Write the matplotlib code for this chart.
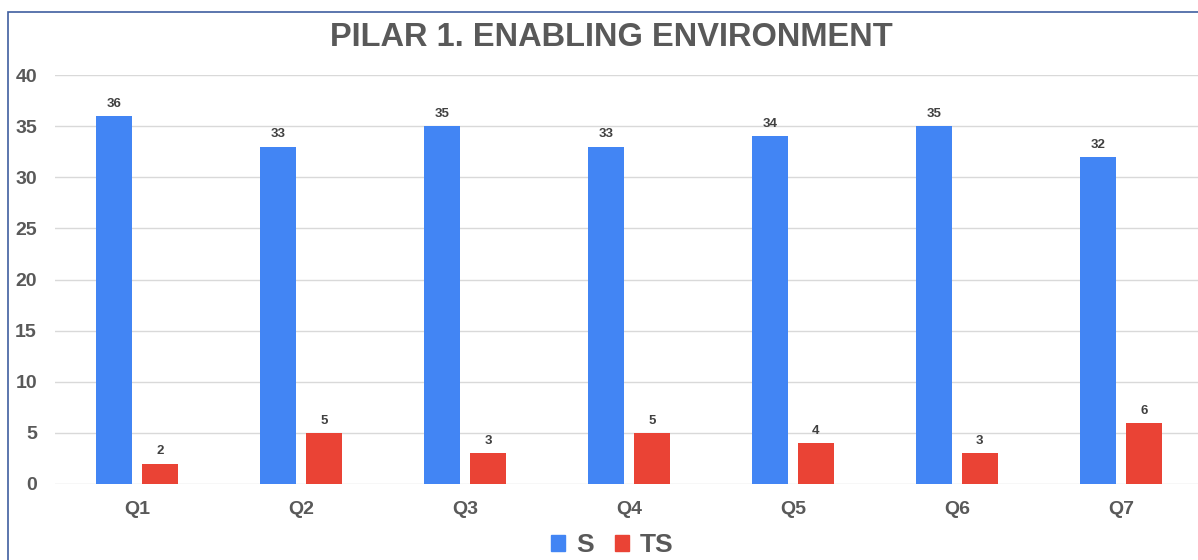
import numpy as np
import matplotlib.pyplot as plt
from matplotlib.patches import Rectangle, Patch

# data
categories = ['Q1', 'Q2', 'Q3', 'Q4', 'Q5', 'Q6', 'Q7']
s_vals = [36, 33, 35, 33, 34, 35, 32]
ts_vals = [2, 5, 3, 5, 4, 3, 6]

blue = '#4285F4'
red = '#EA4335'
grey = '#595959'

plt.rcParams['font.family'] = ['Liberation Sans', 'DejaVu Sans']

fig = plt.figure(figsize=(11.98, 5.6), dpi=100)
ax = fig.add_axes([55 / 1198, 1 - 484 / 560, 1 - 55 / 1198, (484 - 75) / 560])

x = np.arange(len(categories))
w = 0.22
off = 0.14
b1 = ax.bar(x - off, s_vals, w, color=blue, zorder=3)
b2 = ax.bar(x + off, ts_vals, w, color=red, zorder=3)

for bars in (b1, b2):
    for b in bars:
        ax.text(b.get_x() + b.get_width() / 2, b.get_height() + 0.6,
                f'{int(b.get_height())}', ha='center', va='bottom',
                fontsize=9.5, fontweight='bold', color='#404040')

ax.set_xlim(-0.5, 6.47)
ax.set_ylim(0, 40)
ax.set_yticks(range(0, 41, 5))
ax.set_xticks(x)
ax.set_xticklabels(categories)
ax.grid(axis='y', color='#d9d9d9', linewidth=1, zorder=0)
for sp in ax.spines.values():
    sp.set_visible(False)
ax.tick_params(length=0, labelsize=14, labelcolor=grey)
ax.tick_params(axis='x', pad=12)
ax.tick_params(axis='y', pad=13)
for lbl in ax.get_xticklabels() + ax.get_yticklabels():
    lbl.set_fontweight('bold')

fig.text(611 / 1198, 1 - 38 / 560, 'PILAR 1. ENABLING ENVIRONMENT',
         ha='center', va='center', fontsize=23.5, fontweight='bold', color=grey)

handles = [Patch(color=blue), Patch(color=red)]
fig.legend(handles, ['S', 'TS'], loc='center', bbox_to_anchor=(612 / 1198, 1 - 545 / 560),
           ncol=2, frameon=False, prop={'size': 19, 'weight': 'bold'},
           handlelength=0.55, handleheight=0.55, handletextpad=0.4, columnspacing=0.8,
           labelcolor=grey)

# outer border (clipped by the image on the right and bottom)
fig.patches.append(Rectangle((8 / 1198, -0.1), 1.2, 1.1 - 12 / 560,
                             transform=fig.transFigure, fill=False,
                             edgecolor='#3f5f9f', linewidth=1.2))

fig.savefig('out.png', dpi=100)
